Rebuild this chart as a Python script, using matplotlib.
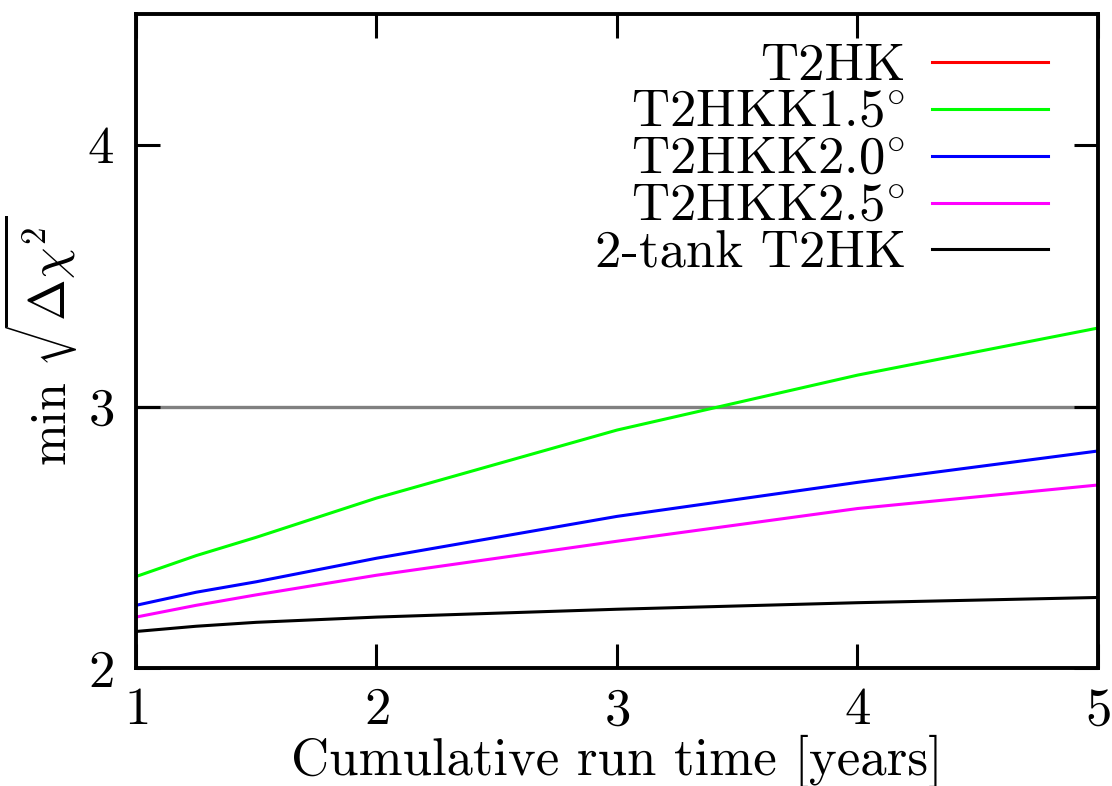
import matplotlib
matplotlib.use("Agg")
import matplotlib.pyplot as plt

plt.rcParams["font.family"] = "serif"
plt.rcParams["font.serif"] = ["cmr10", "DejaVu Serif"]
plt.rcParams["mathtext.fontset"] = "cm"
plt.rcParams["axes.formatter.use_mathtext"] = True

# Cumulative run time [years]
run_time = [1, 1.25, 1.5, 2, 3, 4, 5]

# min sqrt(delta chi^2) for each configuration
t2hk = [1.52, 1.53, 1.54, 1.56, 1.58, 1.60, 1.61]
t2hkk_15 = [2.35, 2.43, 2.50, 2.65, 2.91, 3.12, 3.30]
t2hkk_20 = [2.24, 2.29, 2.33, 2.42, 2.58, 2.71, 2.83]
t2hkk_25 = [2.195, 2.24, 2.28, 2.355, 2.485, 2.61, 2.70]
two_tank = [2.14, 2.16, 2.175, 2.195, 2.225, 2.25, 2.27]

labels = ["T2HK", r"$\mathrm{T2HKK1.5}^{\circ}$", r"$\mathrm{T2HKK2.0}^{\circ}$",
          r"$\mathrm{T2HKK2.5}^{\circ}$", "2-tank T2HK"]
colors = ["#ff0000", "#00ff00", "#0000ff", "#ff00ff", "#000000"]
threshold = 3.0

FS = 38

fig = plt.figure(figsize=(11.12, 7.86), dpi=100)
ax = fig.add_axes([0.1223, 0.150, 0.8651, 0.832])

ax.axhline(threshold, color="#808080", lw=2.4, zorder=1)
for ys, lab, c in zip([t2hk, t2hkk_15, t2hkk_20, t2hkk_25, two_tank], labels, colors):
    ax.plot(run_time, ys, color=c, lw=2.2, label=lab, zorder=2)

ax.set_xlim(1, 5)
ax.set_ylim(2, 4.5)
ax.set_xticks([1, 2, 3, 4, 5])
ax.set_yticks([2, 3, 4])
ax.tick_params(direction="in", length=17, width=2.2, top=True, right=True,
               labelsize=FS)
ax.tick_params(axis="x", pad=14)
ax.tick_params(axis="y", pad=16)
for s in ax.spines.values():
    s.set_linewidth(2.8)

ax.set_xlabel("Cumulative run time [years]", fontsize=FS, labelpad=0)
ax.set_ylabel(r"min $\sqrt{\Delta\chi^2}$", fontsize=36, labelpad=6)

leg = ax.legend(loc="upper right", bbox_to_anchor=(0.981, 1.004),
                frameon=False, markerfirst=False,
                fontsize=FS, handlelength=2.2, handletextpad=0.5,
                labelspacing=0.0, borderaxespad=0.2)

fig.savefig("out.png", dpi=100)
